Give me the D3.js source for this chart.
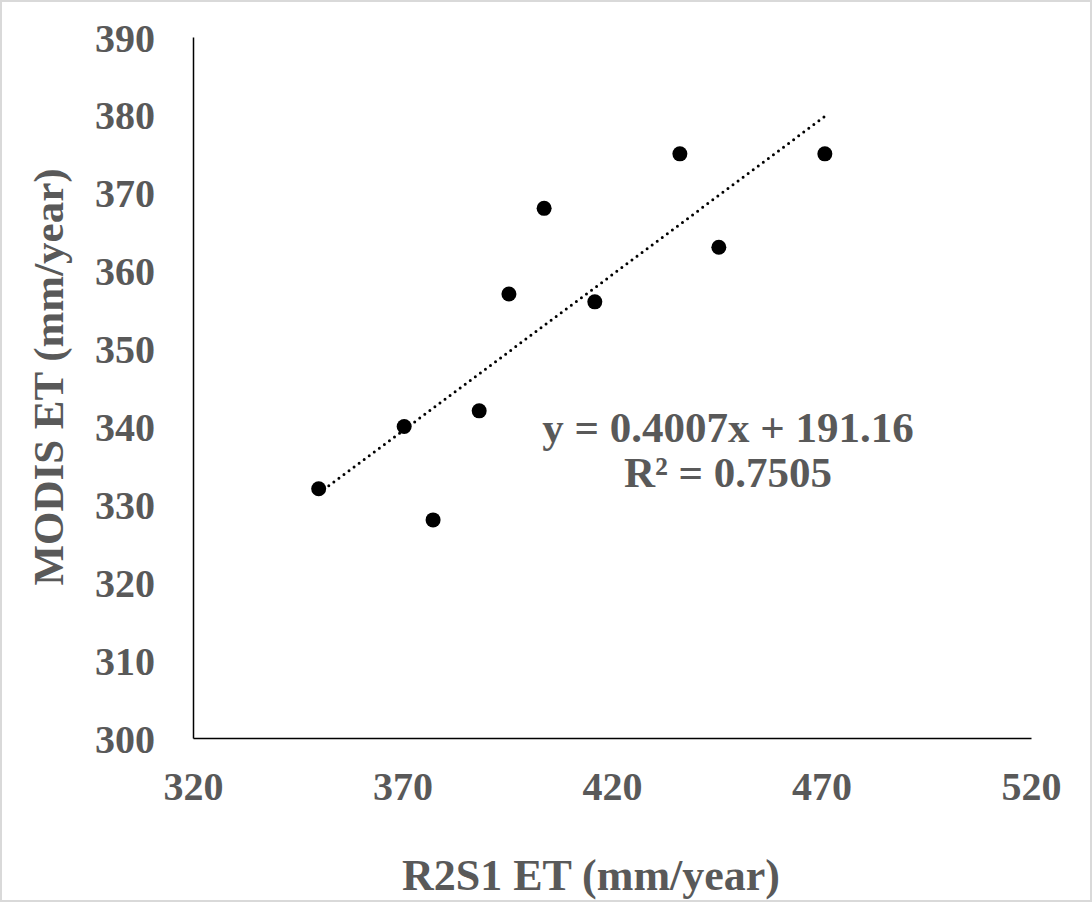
<!DOCTYPE html>
<html>
<head>
<meta charset="utf-8">
<script src="https://cdn.jsdelivr.net/npm/d3@7"></script>
<style>
  html, body { margin: 0; padding: 0; background: #fff; }
  #myChart { width: 1092px; height: 902px; }
  .axis-label { font-family: "Liberation Serif", "Times New Roman", serif; font-weight: bold; fill: #595959; }
</style>
</head>
<body>
<div id="myChart"></div>
<script>
// Data
let r2s1Et = [350, 370.4, 377.3, 388.3, 395.4, 403.8, 415.9, 436.2, 445.5, 470.8];
let modisEt = [332, 340, 328, 342, 357, 368, 356, 375, 363, 375];
let xTicks = [320, 370, 420, 470, 520];
let yTicks = [300, 310, 320, 330, 340, 350, 360, 370, 380, 390];
let slope = 0.4007, intercept = 191.16, rSquared = 0.7505;

let totalW = 1092, totalH = 902;
let margin = { top: 37, right: 61, bottom: 164, left: 193 },
  width = totalW - margin.left - margin.right,
  height = totalH - margin.top - margin.bottom;

let root = d3.select("#myChart")
  .append("svg")
  .attr("width", totalW)
  .attr("height", totalH);

// light gray frame round the picture
root.append("rect")
  .attr("x", 1).attr("y", 1)
  .attr("width", totalW - 2).attr("height", totalH - 2)
  .attr("fill", "#fff")
  .attr("stroke", "#d9d9d9")
  .attr("stroke-width", 2);

let svg = root.append("g")
  .attr("transform", `translate(${margin.left}, ${margin.top})`);

let x = d3.scaleLinear().domain([320, 520]).range([0, width]);
let y = d3.scaleLinear().domain([300, 390]).range([height, 0]);

// X axis
let xAxis = svg.append("g")
  .attr("transform", `translate(0,${height})`)
  .call(d3.axisBottom(x).tickValues(xTicks).tickSize(0).tickPadding(34));
xAxis.select(".domain").attr("stroke", "#000").attr("stroke-width", 1.5);
xAxis.selectAll(".tick text")
  .attr("class", "axis-label")
  .style("font-size", "40px");

// Y axis
let yAxis = svg.append("g")
  .call(d3.axisLeft(y).tickValues(yTicks).tickSize(0).tickPadding(38));
yAxis.select(".domain").attr("stroke", "#000").attr("stroke-width", 1.5);
yAxis.selectAll(".tick text")
  .attr("class", "axis-label")
  .attr("dy", "0.35em")
  .style("font-size", "40px");

// trendline, drawn from the fitted equation over the data range
let xr = d3.extent(r2s1Et);
let trend = xr.map((v) => [v, slope * v + intercept]);
svg.append("path")
  .datum(trend)
  .attr("d", d3.line().x((d) => x(d[0])).y((d) => y(d[1])))
  .attr("fill", "none")
  .attr("stroke", "#000")
  .attr("stroke-width", 3)
  .attr("stroke-linecap", "round")
  .attr("stroke-dasharray", "0,6.3");

// points
svg.selectAll(".dot")
  .data(r2s1Et.map((v, i) => [v, modisEt[i]]))
  .enter()
  .append("circle")
  .attr("class", "dot")
  .attr("cx", (d) => x(d[0]))
  .attr("cy", (d) => y(d[1]))
  .attr("r", 7.5)
  .attr("fill", "#000");

// equation label
svg.append("text")
  .attr("class", "axis-label")
  .attr("x", 535)
  .attr("y", 405)
  .style("text-anchor", "middle")
  .style("font-size", "43px")
  .text(`y = ${slope}x + ${intercept}`);

svg.append("text")
  .attr("class", "axis-label")
  .attr("x", 535)
  .attr("y", 450)
  .style("text-anchor", "middle")
  .style("font-size", "43px")
  .text(`R² = ${rSquared}`);

// axis titles
svg.append("text")
  .attr("class", "axis-label")
  .attr("x", 398)
  .attr("y", height + 152)
  .style("text-anchor", "middle")
  .style("font-size", "44px")
  .text("R2S1 ET (mm/year)");

svg.append("text")
  .attr("class", "axis-label")
  .attr("transform", "rotate(-90)")
  .attr("x", -340)
  .attr("y", -130)
  .style("text-anchor", "middle")
  .style("font-size", "43px")
  .text("MODIS ET (mm/year)");
</script>
</body>
</html>
